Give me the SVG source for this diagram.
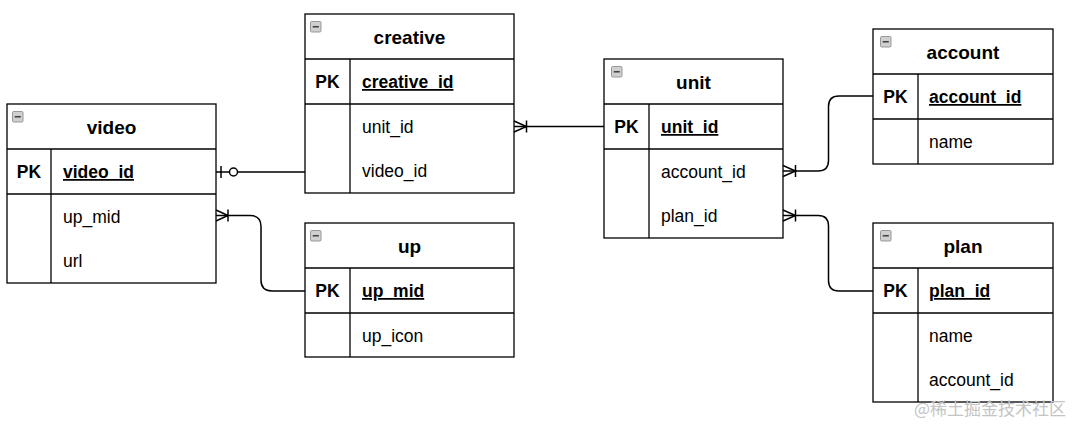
<svg xmlns="http://www.w3.org/2000/svg" width="1080" height="426" viewBox="0 0 1080 426">
<style>
.box{fill:#fff;stroke:#000;stroke-width:1.3}
.ln{fill:none;stroke:#000;stroke-width:1.3}
.title{font-family:"Liberation Sans",Arial,sans-serif;font-size:19px;font-weight:bold;text-anchor:middle;fill:#000}
.pk{font-family:"Liberation Sans",Arial,sans-serif;font-size:17.5px;font-weight:bold;text-anchor:middle;fill:#000}
.key{font-family:"Liberation Sans",Arial,sans-serif;font-size:17.5px;font-weight:bold;text-decoration:underline;fill:#000}
.fld{font-family:"Liberation Sans",Arial,sans-serif;font-size:17.5px;fill:#000}
.icon{fill:#d0d0d0;stroke:#8e8e8e;stroke-width:0.9}
.minus{stroke:#444;stroke-width:1.6}
.conn{fill:none;stroke:#000;stroke-width:1.5}
.wm{font-family:"Noto Sans CJK SC",sans-serif;font-size:17px;fill:#c4c4c4}
</style>
<defs>
<g id="ico"><rect class="icon" x="0" y="0" width="10.5" height="10.5" rx="1.2"/><line class="minus" x1="2.2" y1="5.25" x2="8.3" y2="5.25"/></g>
</defs>

<g id="video">
<rect class="box" x="7" y="104" width="209" height="179"/>
<line class="ln" x1="7" y1="149" x2="216" y2="149"/>
<line class="ln" x1="7" y1="194" x2="216" y2="194"/>
<line class="ln" x1="51" y1="149" x2="51" y2="283"/>
<use href="#ico" x="12.5" y="111.5"/>
<text class="title" x="111.5" y="133.5">video</text>
<text class="pk" x="29" y="178">PK</text>
<text class="key" x="63" y="178">video_id</text>
<text class="fld" x="63" y="222.5">up_mid</text>
<text class="fld" x="63" y="267">url</text>
</g>

<g id="creative">
<rect class="box" x="305" y="14" width="209" height="179"/>
<line class="ln" x1="305" y1="59" x2="514" y2="59"/>
<line class="ln" x1="305" y1="104" x2="514" y2="104"/>
<line class="ln" x1="350" y1="59" x2="350" y2="193"/>
<use href="#ico" x="310.5" y="21.5"/>
<text class="title" x="409.5" y="43.5">creative</text>
<text class="pk" x="327.5" y="88">PK</text>
<text class="key" x="362" y="88">creative_id</text>
<text class="fld" x="362" y="132.5">unit_id</text>
<text class="fld" x="362" y="177">video_id</text>
</g>

<g id="up">
<rect class="box" x="305" y="223" width="209" height="134"/>
<line class="ln" x1="305" y1="268" x2="514" y2="268"/>
<line class="ln" x1="305" y1="313" x2="514" y2="313"/>
<line class="ln" x1="350" y1="268" x2="350" y2="357"/>
<use href="#ico" x="310.5" y="230.5"/>
<text class="title" x="409.5" y="252.5">up</text>
<text class="pk" x="327.5" y="297">PK</text>
<text class="key" x="362" y="297">up_mid</text>
<text class="fld" x="362" y="341.5">up_icon</text>
</g>

<g id="unit">
<rect class="box" x="604" y="59" width="179" height="179"/>
<line class="ln" x1="604" y1="104" x2="783" y2="104"/>
<line class="ln" x1="604" y1="149" x2="783" y2="149"/>
<line class="ln" x1="649" y1="104" x2="649" y2="238"/>
<use href="#ico" x="611.5" y="66.5"/>
<text class="title" x="693.5" y="88.5">unit</text>
<text class="pk" x="626.5" y="133">PK</text>
<text class="key" x="661" y="133">unit_id</text>
<text class="fld" x="661" y="177.5">account_id</text>
<text class="fld" x="661" y="222">plan_id</text>
</g>

<g id="account">
<rect class="box" x="873" y="29" width="180" height="135"/>
<line class="ln" x1="873" y1="74" x2="1053" y2="74"/>
<line class="ln" x1="873" y1="119" x2="1053" y2="119"/>
<line class="ln" x1="918" y1="74" x2="918" y2="164"/>
<use href="#ico" x="880.5" y="36.5"/>
<text class="title" x="963" y="58.5">account</text>
<text class="pk" x="895.5" y="103">PK</text>
<text class="key" x="929" y="103">account_id</text>
<text class="fld" x="929" y="147.5">name</text>
</g>

<g id="plan">
<rect class="box" x="873" y="223" width="180" height="179"/>
<line class="ln" x1="873" y1="268" x2="1053" y2="268"/>
<line class="ln" x1="873" y1="313" x2="1053" y2="313"/>
<line class="ln" x1="918" y1="268" x2="918" y2="402"/>
<use href="#ico" x="880.5" y="230.5"/>
<text class="title" x="963" y="252.5">plan</text>
<text class="pk" x="895.5" y="297">PK</text>
<text class="key" x="929" y="297">plan_id</text>
<text class="fld" x="929" y="341.5">name</text>
<text class="fld" x="929" y="386">account_id</text>
</g>

<g id="connectors">
<!-- video.video_id to creative.video_id -->
<path class="conn" d="M216,172 H229.5 M237.5,172 H305"/>
<line class="conn" x1="221" y1="166" x2="221" y2="178"/>
<circle class="conn" cx="233.5" cy="172" r="4"/>
<!-- creative.unit_id to unit.unit_id -->
<path class="conn" d="M514,126.5 H604"/>
<path class="conn" d="M514,121 L526.5,126.5 L514,132"/>
<line class="conn" x1="526.5" y1="120.5" x2="526.5" y2="132.5"/>
<!-- video.up_mid to up.up_mid -->
<path class="conn" d="M216,215.5 H250 Q261,215.5 261,226.5 V280 Q261,291 272,291 H305"/>
<path class="conn" d="M216,210 L228,215.5 L216,221"/>
<line class="conn" x1="228" y1="209.5" x2="228" y2="221.5"/>
<!-- unit.account_id to account.account_id -->
<path class="conn" d="M783,171 H818 Q828.5,171 828.5,160.5 V106.5 Q828.5,96 839,96 H873"/>
<path class="conn" d="M783,165.5 L795.5,171 L783,176.5"/>
<line class="conn" x1="795.5" y1="165" x2="795.5" y2="177"/>
<!-- unit.plan_id to plan.plan_id -->
<path class="conn" d="M783,215.5 H818 Q828.5,215.5 828.5,226 V280.5 Q828.5,291 839,291 H873"/>
<path class="conn" d="M783,210 L795.5,215.5 L783,221"/>
<line class="conn" x1="795.5" y1="209.5" x2="795.5" y2="221.5"/>
</g>

<text class="wm" x="914" y="415">@稀土掘金技术社区</text>
</svg>
